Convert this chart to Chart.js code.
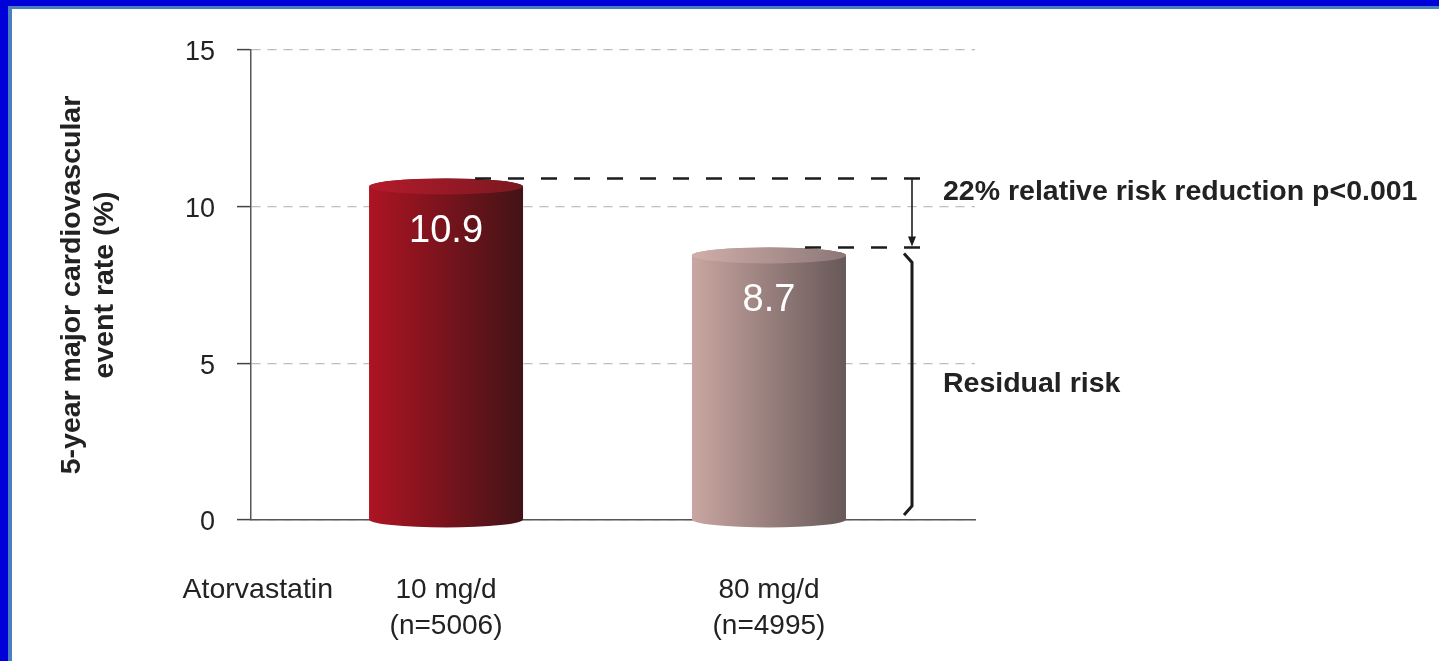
<!DOCTYPE html>
<html>
<head>
<meta charset="utf-8">
<title>Atorvastatin 10 mg/d vs 80 mg/d</title>
<script src="https://cdn.jsdelivr.net/npm/chart.js@4.4.1/dist/chart.umd.min.js"></script>
<style>
  html, body { margin: 0; padding: 0; background: #fff; }
  #frame {
    position: absolute; left: 0; top: 0; width: 1439px; height: 661px;
    box-sizing: border-box; border-top: 6px solid #0000d8; border-left: 8px solid #0000d8;
  }
  #frame .inner {
    width: 100%; height: 100%; box-sizing: border-box;
    border-top: 3px solid #4a7fc0; border-left: 4px solid #4a7fc0;
  }
  #chart { position: absolute; left: 0; top: 0; }
</style>
</head>
<body>
<div id="frame"><div class="inner"></div></div>
<canvas id="chart" width="1439" height="661"></canvas>
<script>
// values
const doseLabels = [['10 mg/d', '(n=5006)'], ['80 mg/d', '(n=4995)']];
const doseSlots = [1, 2];
const eventRates = [10.9, 8.7];
const yTickValues = [0, 5, 10, 15];
const drugName = 'Atorvastatin';
const reductionText = '22% relative risk reduction p<0.001';
const residualText = 'Residual risk';

// cylinder shading, left edge -> right edge
const barShades = [
  { left: '#ad1423', right: '#421316', topLeft: '#b41b2b', topRight: '#7a1820' },
  { left: '#c9a6a1', right: '#675858', topLeft: '#d0aeaa', topRight: '#8c7877' }
];

const FONT = "'Liberation Sans', Arial, sans-serif";
const TEXT = '#222';

// draws the bars as cylinders plus the value inside each one
const cylinders = {
  id: 'cylinders',
  afterDatasetsDraw(chart) {
    const ctx = chart.ctx;
    const meta = chart.getDatasetMeta(0);
    meta.data.forEach((bar, i) => {
      const w = bar.width, l = bar.x - w / 2, r = bar.x + w / 2;
      const rx = w / 2, ry = 8;
      const topY = bar.y + ry, baseY = bar.base;
      const s = barShades[i];

      ctx.save();
      let g = ctx.createLinearGradient(l, 0, r, 0);
      g.addColorStop(0, s.left);
      g.addColorStop(1, s.right);
      ctx.beginPath();
      ctx.moveTo(l, topY);
      ctx.lineTo(l, baseY);
      ctx.ellipse(bar.x, baseY, rx, ry, 0, Math.PI, 0, true);
      ctx.lineTo(r, topY);
      ctx.ellipse(bar.x, topY, rx, ry, 0, 0, Math.PI, true);
      ctx.closePath();
      ctx.fillStyle = g;
      ctx.fill();

      g = ctx.createLinearGradient(l, 0, r, 0);
      g.addColorStop(0, s.topLeft);
      g.addColorStop(1, s.topRight);
      ctx.beginPath();
      ctx.ellipse(bar.x, topY, rx, ry, 0, 0, Math.PI * 2);
      ctx.fillStyle = g;
      ctx.fill();

      ctx.fillStyle = '#fff';
      ctx.font = '38px ' + FONT;
      ctx.textAlign = 'center';
      ctx.textBaseline = 'middle';
      ctx.fillText(eventRates[i].toFixed(1), bar.x, bar.y + 53);
      ctx.restore();
    });
  }
};

// dashed level lines, arrow, residual-risk bracket and their captions
const riskNotes = {
  id: 'riskNotes',
  afterDraw(chart) {
    const ctx = chart.ctx;
    const ys = chart.scales.y, xs = chart.scales.x;
    const bars = chart.getDatasetMeta(0).data;
    const y1 = ys.getPixelForValue(eventRates[0]);
    const y2 = ys.getPixelForValue(eventRates[1]);
    const base = ys.getPixelForValue(0);
    const ax = chart.chartArea.right - 63;

    ctx.save();
    ctx.strokeStyle = '#1c1c1c';
    ctx.fillStyle = '#1c1c1c';

    ctx.lineWidth = 2.5;
    ctx.setLineDash([16, 17]);
    [y1, y2].forEach((y, i) => {
      ctx.beginPath();
      ctx.moveTo(ax + 8, y);
      ctx.lineTo(bars[i].x + 26, y);
      ctx.stroke();
    });
    ctx.setLineDash([]);

    // arrow
    ctx.lineWidth = 1.6;
    ctx.beginPath();
    ctx.moveTo(ax, y1);
    ctx.lineTo(ax, y2 - 8);
    ctx.stroke();
    ctx.beginPath();
    ctx.moveTo(ax, y2 - 1);
    ctx.lineTo(ax - 4, y2 - 11);
    ctx.lineTo(ax + 4, y2 - 11);
    ctx.closePath();
    ctx.fill();

    // bracket
    ctx.lineWidth = 3;
    ctx.beginPath();
    ctx.moveTo(ax - 8, y2 + 6);
    ctx.lineTo(ax, y2 + 15);
    ctx.lineTo(ax, base - 14);
    ctx.lineTo(ax - 8, base - 5);
    ctx.stroke();

    ctx.fillStyle = TEXT;
    ctx.font = 'bold 28.5px ' + FONT;
    ctx.textAlign = 'left';
    ctx.textBaseline = 'middle';
    ctx.fillText(reductionText, ax + 31, y1 + 14);
    ctx.fillText(residualText, ax + 31, (y2 + base) / 2);

    // drug name in front of the first dose label
    ctx.font = '28.5px ' + FONT;
    ctx.textAlign = 'right';
    ctx.fillText(drugName, xs.getPixelForValue(doseSlots[0]) - 113, xs.top + 52 + 18);
    ctx.restore();
  }
};

new Chart(document.getElementById('chart'), {
  type: 'bar',
  data: {
    datasets: [{
      data: doseSlots.map((x, i) => ({ x: x, y: eventRates[i] })),
      backgroundColor: 'rgba(0,0,0,0)',
      barThickness: 154
    }]
  },
  options: {
    responsive: false,
    animation: false,
    layout: { padding: { left: 0, right: 464, top: 50, bottom: 0 } },
    plugins: { legend: { display: false }, tooltip: { enabled: false } },
    scales: {
      x: {
        type: 'linear',
        offset: false,
        min: 0.396,
        max: 2.638,
        afterBuildTicks: (scale) => { scale.ticks = doseSlots.map(v => ({ value: v })); },
        afterFit: (scale) => { scale.height = 141; },
        grid: { display: false, drawTicks: false },
        border: { display: true, color: '#555', width: 1.5 },
        ticks: {
          padding: 52,
          color: TEXT,
          font: { family: FONT, size: 28, lineHeight: 1.3 },
          callback: (v) => doseLabels[doseSlots.indexOf(v)] || ''
        }
      },
      y: {
        min: 0,
        max: 15,
        afterBuildTicks: (scale) => { scale.ticks = yTickValues.map(v => ({ value: v })); },
        afterFit: (scale) => { scale.width = 251; },
        grid: { color: '#bdbdbd', lineWidth: 1.2, tickLength: 14, tickColor: '#444', tickWidth: 1.5, tickBorderDash: [] },
        border: { display: true, color: '#555', width: 1.5, dash: [9, 7] },
        ticks: {
          padding: 22,
          labelOffset: 3,
          color: TEXT,
          font: { family: FONT, size: 27 }
        },
        title: {
          display: true,
          text: ['5-year major cardiovascular', 'event rate (%)'],
          color: TEXT,
          font: { family: FONT, size: 28.5, weight: 'bold', lineHeight: 1.15 },
          padding: { top: 56, bottom: 0 }
        }
      }
    }
  },
  plugins: [cylinders, riskNotes]
});
</script>
</body>
</html>
